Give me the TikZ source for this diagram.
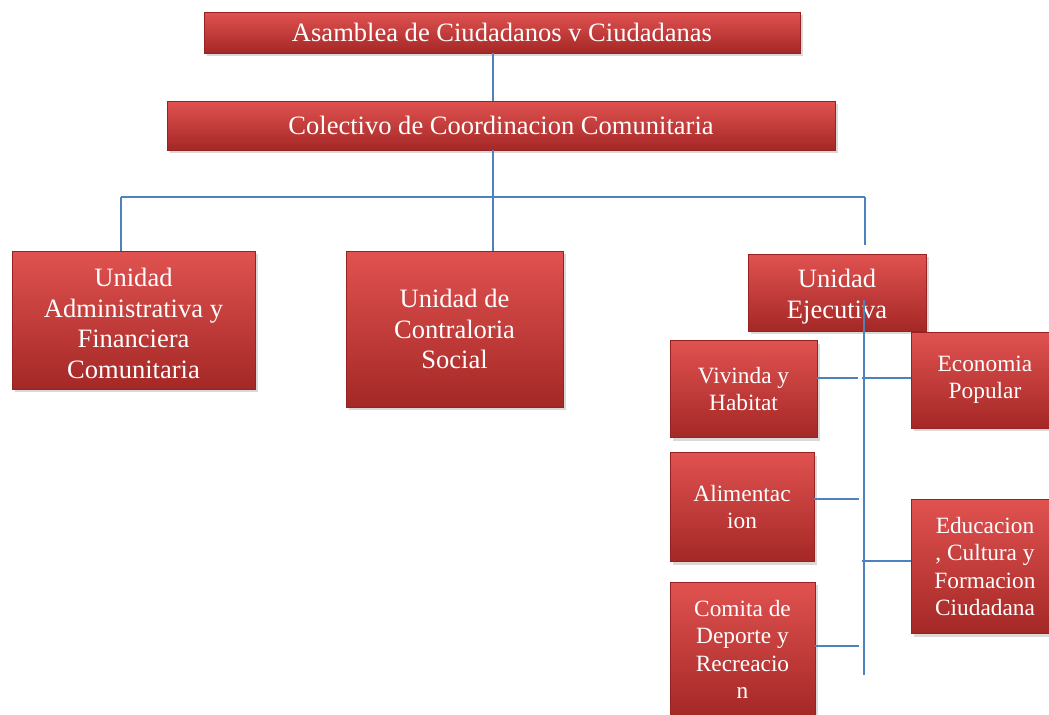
\documentclass[tikz,border=0pt]{standalone}
\usepackage{fontspec}
\setmainfont{Liberation Serif}
\usetikzlibrary{positioning,shadows}

\definecolor{boxtop}{RGB}{224,82,80}
\definecolor{boxbot}{RGB}{164,40,38}
\definecolor{boxedge}{RGB}{150,34,34}
\definecolor{linkblue}{RGB}{79,129,189}

\tikzset{
  unit/.style={draw=boxedge, line width=0.6pt, top color=boxtop, bottom color=boxbot,
    text=white, align=center, inner sep=0pt,
    drop shadow={shadow xshift=2pt, shadow yshift=-2.5pt, opacity=0.3}},
  big/.style={unit, font=\fontsize{19.9}{23}\selectfont},
  small/.style={unit, font=\fontsize{17.5}{20.5}\selectfont},
  link/.style={draw=linkblue, line width=1.5pt}
}

\begin{document}
\begin{tikzpicture}[x=0.75pt, y=-0.75pt]
\useasboundingbox (0,0) rectangle (1049,714);

% top levels
\node[big, minimum width=447pt, minimum height=30.75pt] (asamblea) at (502,32.5) {Asamblea de Ciudadanos v Ciudadanas};
\node[big, minimum width=501pt, minimum height=36.75pt] (colectivo) at (501,125.5) {Colectivo de Coordinacion Comunitaria};

% units
\node[big, minimum width=182.25pt, minimum height=103.5pt] (admin) at (133.5,320) {\rule{0pt}{19pt}Unidad\\Administrativa y\\Financiera\\Comunitaria};
\node[big, minimum width=162.75pt, minimum height=117pt] (contraloria) at (454.5,329) {Unidad de\\Contraloria\\Social};
\node[big, minimum width=133.5pt, minimum height=57.75pt] (ejecutiva) at (837,292.5) {\rule{0pt}{20pt}Unidad\\Ejecutiva};

% committees
\node[small, minimum width=110.25pt, minimum height=72.75pt] (vivinda) at (743.5,389) {Vivinda y\\Habitat};
\node[small, minimum width=108pt, minimum height=81.75pt] (alimentacion) at (742,507) {Alimentac\\ion};
\node[small, minimum width=108.75pt, minimum height=101.25pt] (comita) at (742.5,649.5) {Comita de\\Deporte y\\Recreacio\\n};
\node[small, minimum width=111pt, minimum height=72pt] (economia) at (985,380) {Economia\\Popular};
\node[small, minimum width=111pt, minimum height=100.5pt] (educacion) at (985,566.5) {Educacion\\, Cultura y\\Formacion\\Ciudadana};

% junctions
\coordinate (trunk) at (493,197);
\coordinate (barL) at (121,197);
\coordinate (barR) at (865,197);
\coordinate (ejecTop) at (865,245);
\coordinate (spineTop) at (864,300);
\coordinate (spineBot) at (864,675);
\coordinate (jViv) at (858,378);
\coordinate (jEco) at (862,378);
\coordinate (jAli) at (859,499);
\coordinate (jEdu) at (862,561);
\coordinate (jCom) at (859,646);

\draw[link] (asamblea.south -| trunk) -- (colectivo.north -| trunk);
\draw[link] (colectivo.south -| trunk) -- (trunk);
\draw[link] (barL) -- (barR);
\draw[link] (barL) -- (admin.north -| barL);
\draw[link] (trunk) -- (contraloria.north -| trunk);
\draw[link] (barR) -- (ejecTop);
\draw[link] (spineTop) -- (spineBot);
\draw[link] (vivinda.east |- jViv) -- (jViv);
\draw[link] (jEco) -- (economia.west |- jEco);
\draw[link] (alimentacion.east |- jAli) -- (jAli);
\draw[link] (jEdu) -- (educacion.west |- jEdu);
\draw[link] (comita.east |- jCom) -- (jCom);
\end{tikzpicture}
\end{document}
